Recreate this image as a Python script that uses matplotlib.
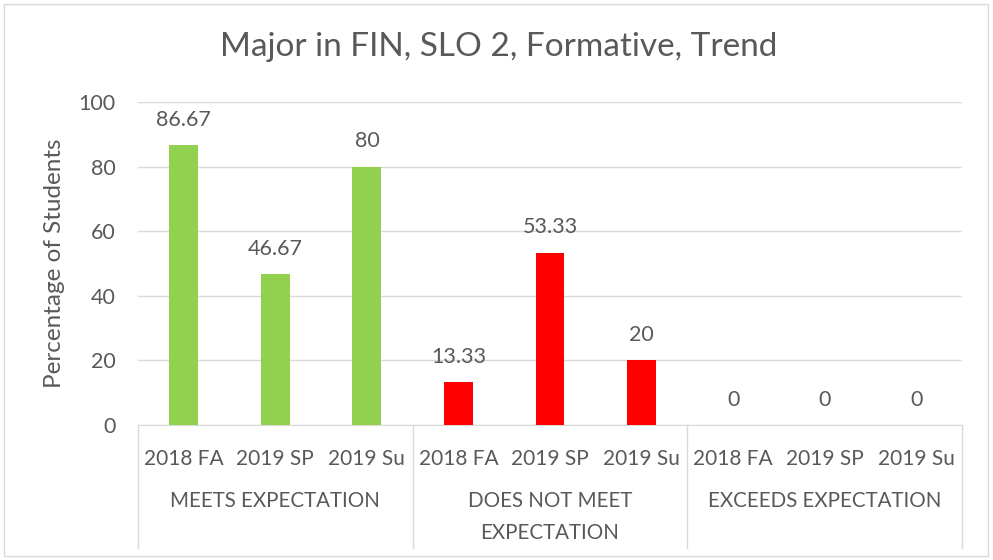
import matplotlib.pyplot as plt
from matplotlib.patches import Rectangle
from matplotlib.transforms import blended_transform_factory

plt.rcParams['font.family'] = ['Lato', 'DejaVu Sans']

groups = ["MEETS EXPECTATION", "DOES NOT MEET\nEXPECTATION", "EXCEEDS EXPECTATION"]
terms = ["2018 FA", "2019 SP", "2019 Su"]
meets = [86.67, 46.67, 80]
not_meet = [13.33, 53.33, 20]
exceeds = [0, 0, 0]
group_values = [meets, not_meet, exceeds]
group_colors = ["#92D050", "#FF0000", "#4472C4"]

text_col = "#595959"
grid_col = "#D9D9D9"

fig = plt.figure(figsize=(9.93, 5.6), dpi=100)
ax = fig.add_axes([138 / 993, 1 - 425 / 560, (962 - 138) / 993, (425 - 102) / 560])

# outer chart border
fig.patches.append(Rectangle((4 / 993, 1 - 556 / 560), 984 / 993, 552 / 560,
                             transform=fig.transFigure, fill=False,
                             edgecolor=grid_col, linewidth=1))

n = len(terms)
xs, labels = [], []
for g, vals in enumerate(group_values):
    pos = [g * n + i for i in range(n)]
    bars = ax.bar(pos, vals, width=0.315, color=group_colors[g], zorder=3)
    for b, v in zip(bars, vals):
        ax.annotate(f"{v:g}", (b.get_x() + b.get_width() / 2, v),
                    xytext=(0, 11), textcoords="offset points",
                    ha="center", va="bottom", fontsize=15.5, color=text_col)
    xs += pos
    labels += terms

ax.set_xlim(-0.5, len(xs) - 0.5)
ax.set_ylim(0, 100)
ax.set_yticks(range(0, 101, 20))
ax.set_xticks(xs)
ax.set_xticklabels(labels)
ax.tick_params(axis="x", length=0, pad=17, labelsize=15, colors=text_col)
ax.tick_params(axis="y", length=0, pad=16, labelsize=15.5, colors=text_col)
ax.grid(axis="y", color=grid_col, linewidth=1, zorder=0)
for side in ["top", "right", "left"]:
    ax.spines[side].set_visible(False)
ax.spines["bottom"].set_color(grid_col)

# group separators and group names below the tick labels
trans = blended_transform_factory(ax.transData, ax.transAxes)
for k in range(len(groups) + 1):
    x = k * n - 0.5
    ax.plot([x, x], [0, -0.38], transform=trans, color=grid_col,
            linewidth=1, clip_on=False)
for g, name in enumerate(groups):
    ax.text(g * n + 1, -0.205, name, transform=trans, ha="center", va="top",
            fontsize=14.8, color=text_col, linespacing=1.75)

ax.set_ylabel("Percentage of Students", fontsize=17.5, color=text_col, labelpad=10)
fig.text(499 / 993, 1 - 47 / 560, "Major in FIN, SLO 2, Formative, Trend",
         fontsize=24, color=text_col, ha="center", va="center")

fig.savefig("out.png", dpi=100)
